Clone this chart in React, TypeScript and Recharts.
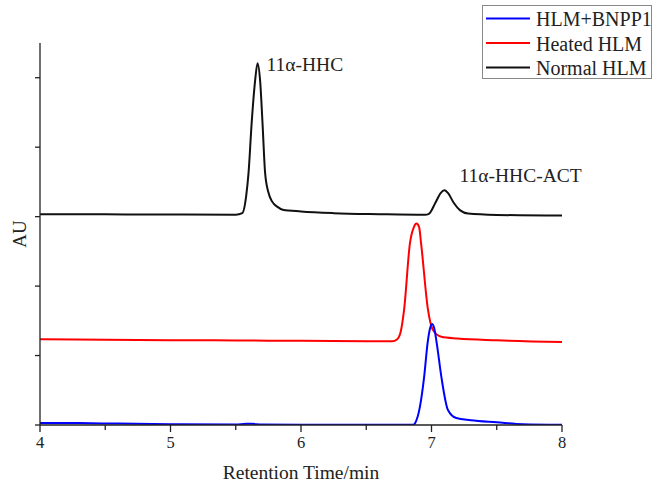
import React from 'react';
import { LineChart, Line, XAxis, YAxis, ReferenceDot } from 'recharts';

// Retention time (min) and absorbance (AU)
const normalTime = [4.0, 4.5, 5.0, 5.5, 5.55, 5.58, 5.598, 5.622, 5.648, 5.667, 5.687, 5.705, 5.725, 5.75, 5.778, 5.82, 5.86, 6.0, 6.25, 6.6, 6.95, 6.98, 7.03, 7.07, 7.1, 7.13, 7.17, 7.22, 7.28, 7.5, 8.0];
const normalAU = [3.036, 3.033, 3.03, 3.028, 3.05, 3.3, 3.63, 4.35, 4.95, 5.21, 4.95, 4.35, 3.63, 3.35, 3.22, 3.14, 3.1, 3.075, 3.05, 3.035, 3.026, 3.04, 3.2, 3.34, 3.38, 3.33, 3.2, 3.09, 3.045, 3.025, 3.015];

const heatedTime = [4.0, 4.5, 5.0, 5.5, 6.0, 6.5, 6.7, 6.735, 6.765, 6.79, 6.835, 6.865, 6.885, 6.905, 6.92, 6.973, 7.01, 7.075, 7.2, 7.5, 8.0];
const heatedAU = [1.235, 1.228, 1.222, 1.217, 1.212, 1.207, 1.205, 1.23, 1.35, 1.66, 2.62, 2.85, 2.9, 2.85, 2.62, 1.66, 1.37, 1.27, 1.245, 1.22, 1.195];

const bnppTime = [4.0, 4.3, 4.6, 5.0, 5.5, 5.58, 5.62, 5.7, 6.0, 6.5, 6.86, 6.875, 6.91, 6.944, 6.97, 6.99, 7.004, 7.02, 7.04, 7.075, 7.126, 7.19, 7.3, 7.5, 7.7, 8.0];
const bnppAU = [0.03, 0.028, 0.02, 0.012, 0.006, 0.018, 0.018, 0.006, 0.004, 0.003, 0.003, 0.03, 0.25, 0.7, 1.18, 1.4, 1.455, 1.4, 1.18, 0.7, 0.216, 0.1, 0.07, 0.04, 0.012, 0.003];

const seriesNames = ['HLM+BNPP1', 'Heated HLM', 'Normal HLM'];
const seriesColors = ['#0000ff', '#ff0000', '#111111'];

const xTicks = [4, 4.5, 5, 5.5, 6, 6.5, 7, 7.5, 8];
const yTicks = [0, 1, 2, 3, 4, 5];

const peakLabels = ['11α-HHC', '11α-HHC-ACT'];
const peakTimes = [5.667, 7.1];
const peakAU = [5.21, 3.38];

const FONT = "'Liberation Serif', 'Times New Roman', serif";
const AXIS = '#222';

const toRows = (t: number[], v: number[]) => t.map((x, i) => ({ t: x, au: v[i] }));
const seriesData = [toRows(bnppTime, bnppAU), toRows(heatedTime, heatedAU), toRows(normalTime, normalAU)];

const XTick = (props: any) => {
  const { x, y, payload } = props;
  const v = payload.value;
  const major = Number.isInteger(v);
  return (
    <g>
      <line x1={x} x2={x} y1={y} y2={y + (major ? 7 : 5)} stroke={AXIS} strokeWidth={1.3} />
      {major && (
        <text x={x} y={y + 23} textAnchor="middle" fontSize={16.5} fontFamily={FONT} fill={AXIS}>
          {v}
        </text>
      )}
    </g>
  );
};

const peakOffsets = [
  { dx: 9, dy: 8 },
  { dx: 15, dy: -8 },
];

export default function App() {
  return (
    <div style={{ position: 'absolute', left: 0, top: 0, width: 652, height: 488, background: '#fff' }}>
      <LineChart width={652} height={488} margin={{ top: 43, right: 90, bottom: 0, left: 0 }}>
        <XAxis
          type="number"
          dataKey="t"
          domain={[4, 8]}
          ticks={xTicks}
          allowDataOverflow
          height={63}
          tickSize={0}
          tickMargin={0}
          tickLine={false}
          tick={<XTick />}
          axisLine={{ stroke: AXIS, strokeWidth: 1.3 }}
          label={{
            content: (p: any) => {
              const vb = p.viewBox || { x: 40, y: 425, width: 522, height: 63 };
              return (
                <text x={vb.x + vb.width / 2} y={vb.y + 54} textAnchor="middle" fontSize={19.5} fontFamily={FONT} fill={AXIS}>
                  Retention Time/min
                </text>
              );
            },
          }}
        />
        <YAxis
          type="number"
          dataKey="au"
          domain={[0, 5.5]}
          ticks={yTicks}
          allowDataOverflow
          width={40}
          tickSize={5}
          tickFormatter={() => ''}
          tickLine={{ stroke: AXIS, strokeWidth: 1.3 }}
          axisLine={{ stroke: AXIS, strokeWidth: 1.3 }}
          label={{
            content: (p: any) => {
              const vb = p.viewBox || { x: 0, y: 43, width: 40, height: 382 };
              const cx = vb.x + 26;
              const cy = vb.y + vb.height / 2;
              return (
                <text x={cx} y={cy} transform={`rotate(-90 ${cx} ${cy})`} textAnchor="middle" fontSize={19} fontFamily={FONT} fill={AXIS}>
                  AU
                </text>
              );
            },
          }}
        />
        {[2, 1, 0].map((i) => (
          <Line
            key={seriesNames[i]}
            data={seriesData[i]}
            dataKey="au"
            name={seriesNames[i]}
            type="monotone"
            stroke={seriesColors[i]}
            strokeWidth={2}
            dot={false}
            isAnimationActive={false}
          />
        ))}
        {peakLabels.map((lab, i) => (
          <ReferenceDot
            key={lab}
            x={peakTimes[i]}
            y={peakAU[i]}
            r={0}
            fill="none"
            stroke="none"
            label={{
              content: (p: any) => {
                const vb = p.viewBox;
                if (!vb) return null;
                return (
                  <text x={vb.x + peakOffsets[i].dx} y={vb.y + peakOffsets[i].dy} fontSize={19.5} fontFamily={FONT} fill={AXIS}>
                    {lab}
                  </text>
                );
              },
            }}
          />
        ))}
      </LineChart>
      <div
        style={{
          position: 'absolute',
          left: 482,
          top: 5,
          width: 168,
          height: 72,
          border: '1px solid #888',
          background: '#fff',
        }}
      >
        <svg width={168} height={72} style={{ display: 'block' }}>
          {seriesNames.map((n, i) => (
            <g key={n}>
              <line x1={3} x2={47} y1={12.5 + i * 24.5} y2={12.5 + i * 24.5} stroke={seriesColors[i]} strokeWidth={2} />
              <text x={53} y={20 + i * 24.5} fontSize={20} fontFamily={FONT} fill={AXIS}>
                {n}
              </text>
            </g>
          ))}
        </svg>
      </div>
    </div>
  );
}
